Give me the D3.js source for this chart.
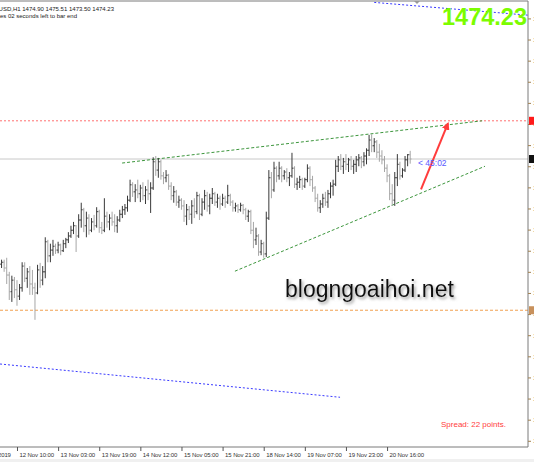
<!DOCTYPE html>
<html>
<head>
    <meta charset="utf-8">
    <style>
        body {
            margin: 0;
            background: #fff;
        }

        svg {
            display: block;
            font-family: 'Liberation Sans', Arial, sans-serif;
        }

        .time .tick text {
            font-size: 6px;
            fill: #333;
            letter-spacing: -0.1px;
        }

        .time .tick line {
            stroke: #555;
        }

        .price .tick text {
            font-size: 6px;
            fill: #8a6a40;
        }

        .price .tick line {
            stroke: #a08050;
        }

        .domain {
            display: none;
        }

        .info {
            font-size: 6px;
            fill: #222;
        }
    </style>
    <title>XAUUSD H1</title>
</head>
<body>
    <svg width="534" height="462"></svg>

<script src="https://cdn.jsdelivr.net/npm/d3@7"></script>
<script>
    // hourly bars, oldest first (index 0 = leftmost bar)
    let barOpen = [
        1457.5, 1457.8, 1458.1, 1457.2, 1456.1, 1453.5, 1455.3, 1453.8, 1452.8, 1454.1,
        1457.5, 1455.6, 1456.6, 1454.7, 1454.1, 1453.3, 1456.9, 1455.3, 1456.6, 1461.3,
        1459.1, 1460.0, 1460.6, 1460.0, 1460.8, 1459.9, 1461.0, 1461.6, 1462.2, 1463.1,
        1463.8, 1462.2, 1464.7, 1466.3, 1463.8, 1465.0, 1463.1, 1464.4, 1463.8, 1466.0,
        1463.5, 1463.1, 1465.3, 1464.4, 1465.0, 1464.4, 1463.8, 1464.7, 1465.6, 1466.3,
        1466.6, 1467.8, 1470.2, 1469.1, 1469.4, 1468.8, 1469.7, 1468.5, 1469.4, 1468.8,
        1469.7, 1473.8, 1472.5, 1473.8, 1471.6, 1471.3, 1471.7, 1470.0, 1468.5, 1469.1,
        1467.5, 1467.8, 1466.9, 1465.3, 1466.3, 1465.6, 1466.9, 1466.0, 1468.5, 1465.6,
        1467.5, 1468.5, 1466.9, 1468.1, 1468.8, 1467.5, 1468.1, 1467.2, 1468.1, 1467.5,
        1468.5, 1467.5, 1466.6, 1466.9, 1466.3, 1467.0, 1466.3, 1465.3, 1466.0, 1463.1,
        1461.6, 1462.2, 1459.7, 1461.0, 1459.4, 1465.0, 1471.3, 1469.4, 1472.8, 1471.6,
        1472.8, 1471.6, 1472.2, 1471.3, 1471.6, 1472.8, 1470.3, 1470.6, 1471.0, 1470.0,
        1471.0, 1472.8, 1471.0, 1469.7, 1468.1, 1466.6, 1467.2, 1468.1, 1467.5, 1468.8,
        1470.0, 1470.3, 1473.1, 1474.1, 1473.1, 1473.8, 1473.4, 1474.1, 1473.1, 1473.4,
        1474.1, 1474.4, 1473.8, 1474.7, 1475.6, 1477.2, 1476.3, 1476.9, 1475.3, 1474.7,
        1474.1, 1472.8, 1471.6, 1468.8, 1467.8, 1471.3, 1473.4, 1471.6, 1472.5, 1474.1,
        1474.90
    ]

    let barHigh = [
        1458.1, 1458.5, 1458.5, 1458.8, 1456.6, 1456.0, 1455.8, 1455.3, 1454.7, 1458.1,
        1458.1, 1457.2, 1457.5, 1456.9, 1454.9, 1457.7, 1458.0, 1457.5, 1462.0, 1461.6,
        1461.0, 1461.6, 1461.0, 1461.3, 1461.0, 1461.6, 1461.9, 1462.8, 1463.8, 1464.4,
        1463.9, 1465.6, 1467.4, 1466.6, 1466.0, 1465.6, 1465.0, 1465.5, 1466.7, 1466.3,
        1464.4, 1468.1, 1466.0, 1465.6, 1466.0, 1465.6, 1465.3, 1466.3, 1466.9, 1467.2,
        1468.5, 1471.0, 1470.6, 1470.3, 1471.0, 1470.2, 1470.6, 1470.0, 1471.0, 1470.6,
        1474.5, 1474.7, 1474.4, 1474.1, 1472.2, 1472.5, 1471.9, 1470.6, 1470.0, 1469.4,
        1468.5, 1468.1, 1467.8, 1467.2, 1466.9, 1467.8, 1468.1, 1469.1, 1468.8, 1468.1,
        1469.4, 1469.1, 1468.8, 1469.7, 1469.1, 1468.8, 1468.5, 1468.8, 1468.5, 1470.2,
        1468.8, 1467.8, 1467.4, 1467.2, 1467.4, 1467.2, 1466.6, 1466.3, 1466.3, 1464.4,
        1463.5, 1462.5, 1461.6, 1461.3, 1466.0, 1472.5, 1472.2, 1473.8, 1473.1, 1473.8,
        1473.1, 1472.5, 1472.8, 1472.2, 1475.2, 1473.1, 1471.3, 1471.6, 1471.3, 1471.3,
        1473.4, 1473.1, 1471.6, 1470.0, 1468.8, 1467.8, 1468.8, 1469.1, 1469.4, 1470.6,
        1471.0, 1474.1, 1474.7, 1475.0, 1474.4, 1475.0, 1474.4, 1474.7, 1474.1, 1474.7,
        1475.0, 1474.7, 1475.3, 1475.9, 1478.0, 1478.1, 1477.5, 1477.2, 1476.6, 1475.6,
        1474.7, 1473.4, 1471.9, 1470.3, 1472.2, 1475.0, 1473.8, 1472.8, 1474.7, 1475.0,
        1475.51
    ]

    let barLow = [
        1456.9, 1457.2, 1456.6, 1454.7, 1452.2, 1451.9, 1452.5, 1451.3, 1452.2, 1453.5,
        1455.0, 1454.1, 1453.0, 1453.0, 1449.1, 1453.1, 1454.1, 1454.5, 1455.6, 1458.1,
        1458.1, 1459.1, 1459.4, 1459.5, 1459.2, 1459.7, 1460.3, 1461.1, 1461.9, 1462.5,
        1459.7, 1461.9, 1463.5, 1462.8, 1462.0, 1462.4, 1462.8, 1463.1, 1463.5, 1462.7,
        1462.5, 1462.8, 1463.5, 1463.1, 1463.8, 1462.8, 1462.7, 1464.4, 1465.0, 1465.5,
        1466.0, 1467.5, 1468.3, 1467.5, 1468.1, 1467.5, 1467.8, 1467.2, 1467.8, 1465.8,
        1469.4, 1471.6, 1471.3, 1471.0, 1470.3, 1470.6, 1469.4, 1467.8, 1467.4, 1466.9,
        1466.6, 1466.3, 1464.4, 1463.9, 1464.7, 1464.1, 1465.0, 1465.6, 1464.7, 1465.3,
        1466.3, 1466.0, 1465.6, 1467.2, 1466.9, 1466.6, 1466.3, 1466.9, 1466.6, 1467.2,
        1466.9, 1466.0, 1466.0, 1465.8, 1466.0, 1465.6, 1464.7, 1464.4, 1462.5, 1460.3,
        1460.8, 1459.1, 1459.2, 1458.8, 1458.9, 1464.7, 1468.1, 1469.1, 1470.6, 1471.0,
        1470.6, 1471.0, 1470.6, 1470.0, 1471.3, 1469.7, 1469.4, 1469.7, 1469.4, 1469.7,
        1470.6, 1470.0, 1469.1, 1467.5, 1466.0, 1465.8, 1466.6, 1466.9, 1466.6, 1468.1,
        1468.5, 1470.0, 1472.2, 1472.5, 1471.9, 1472.5, 1472.2, 1472.5, 1471.9, 1472.2,
        1473.1, 1472.8, 1473.1, 1473.4, 1474.7, 1475.3, 1475.3, 1474.4, 1473.8, 1473.4,
        1472.2, 1470.6, 1467.8, 1466.9, 1466.9, 1470.0, 1471.0, 1471.3, 1472.2, 1473.1,
        1473.50
    ]

    let barClose = [
        1457.8, 1458.1, 1457.2, 1456.1, 1453.5, 1455.3, 1453.8, 1452.8, 1454.1, 1457.5,
        1455.6, 1456.6, 1454.7, 1454.1, 1453.3, 1456.9, 1455.3, 1456.6, 1461.3, 1459.1,
        1460.0, 1460.6, 1460.0, 1460.8, 1459.9, 1461.0, 1461.6, 1462.2, 1463.1, 1463.8,
        1462.2, 1464.7, 1466.3, 1463.8, 1465.0, 1463.1, 1464.4, 1463.8, 1466.0, 1463.5,
        1463.1, 1465.3, 1464.4, 1465.0, 1464.4, 1463.8, 1464.7, 1465.6, 1466.3, 1466.6,
        1467.8, 1470.2, 1469.1, 1469.4, 1468.8, 1469.7, 1468.5, 1469.4, 1468.8, 1469.7,
        1473.8, 1472.5, 1473.8, 1471.6, 1471.3, 1471.7, 1470.0, 1468.5, 1469.1, 1467.5,
        1467.8, 1466.9, 1465.3, 1466.3, 1465.6, 1466.9, 1466.0, 1468.5, 1465.6, 1467.5,
        1468.5, 1466.9, 1468.1, 1468.8, 1467.5, 1468.1, 1467.2, 1468.1, 1467.5, 1468.5,
        1467.5, 1466.6, 1466.9, 1466.3, 1467.0, 1466.3, 1465.3, 1466.0, 1463.1, 1461.6,
        1462.2, 1459.7, 1461.0, 1459.4, 1465.0, 1471.3, 1469.4, 1472.8, 1471.6, 1472.8,
        1471.6, 1472.2, 1471.3, 1471.6, 1472.8, 1470.3, 1470.6, 1471.0, 1470.0, 1471.0,
        1472.8, 1471.0, 1469.7, 1468.1, 1466.6, 1467.2, 1468.1, 1467.5, 1468.8, 1470.0,
        1470.3, 1473.1, 1474.1, 1473.1, 1473.8, 1473.4, 1474.1, 1473.1, 1473.4, 1474.1,
        1474.4, 1473.8, 1474.7, 1475.6, 1477.2, 1476.3, 1476.9, 1475.3, 1474.7, 1474.1,
        1472.8, 1471.6, 1468.8, 1467.8, 1471.3, 1473.4, 1471.6, 1472.5, 1474.1, 1474.9,
        1474.23
    ]

    // time axis: bar index of each label and its text
    let timeTickIdx = [-9, 7, 23, 39, 55, 71, 87, 103, 119, 135, 151]
    let timeTickLabels = ["11 Nov 2019", "12 Nov 10:00", "13 Nov 03:00", "13 Nov 19:00", "14 Nov 12:00",
        "15 Nov 05:00", "15 Nov 21:00", "18 Nov 14:00", "19 Nov 07:00", "19 Nov 23:00", "20 Nov 16:00"]

    let priceTicks = [1496.2, 1492.9, 1489.6, 1486.3, 1483.0, 1479.7, 1476.4, 1473.1, 1469.8, 1466.5,
        1463.2, 1459.9, 1456.6, 1453.3, 1450.0, 1446.7, 1443.4, 1440.1, 1436.8, 1433.5, 1430.2]

    let lastPrice = 1474.23
    let resistLevel = 1480.2
    let supportLevel = 1450.6

    // drawn objects as [bar index, price]
    let upperTrend = [[47.9, 1473.6], [188, 1480.2]]
    let lowerTrend = [[91.8, 1456.7], [189.1, 1473.1]]
    let channelLow = [[0.4, 1442.2], [132.7, 1437.0]]
    let channelHigh = [[146, 1498.7], [206, 1496.7]]
    let arrowPts = [[164.2, 1469.5], [174.7, 1479.8]]

    let plot = { left: 0, top: 1, right: 528, bottom: 447 }

    let svg = d3.select("svg")

    let x = d3.scaleLinear()
        .domain([0, 160])
        .range([-1, 410.2])

    let y = d3.scaleLinear()
        .domain([1429.23, 1498.92])
        .range([plot.bottom, plot.top])

    let defs = svg.append("defs")

    defs.append("clipPath")
        .attr("id", "clip")
        .append("rect")
        .attr("x", plot.left)
        .attr("y", plot.top)
        .attr("width", plot.right - plot.left)
        .attr("height", plot.bottom - plot.top)

    defs.append("marker")
        .attr("id", "head")
        .attr("viewBox", "0 0 10 10")
        .attr("refX", 8)
        .attr("refY", 5)
        .attr("markerWidth", 4)
        .attr("markerHeight", 4)
        .attr("orient", "auto")
        .append("path")
        .attr("d", "M0,0 L10,5 L0,10 z")
        .attr("fill", "#ff3c3c")

    let shadow = defs.append("filter")
        .attr("id", "shadow")
        .attr("x", "-10%").attr("y", "-30%")
        .attr("width", "120%").attr("height", "160%")
    shadow.append("feDropShadow")
        .attr("dx", 1.5)
        .attr("dy", 2)
        .attr("stdDeviation", 1.5)
        .attr("flood-color", "#777")
        .attr("flood-opacity", 0.8)

    // bottom strip
    svg.append("rect")
        .attr("x", 0).attr("y", 459)
        .attr("width", 534).attr("height", 3)
        .attr("fill", "#f0f0f0")

    let chart = svg.append("g").attr("clip-path", "url(#clip)")

    let line = d3.line()
        .x(d => x(d[0]))
        .y(d => y(d[1]))

    // horizontal levels
    chart.append("line")
        .attr("x1", plot.left).attr("x2", plot.right)
        .attr("y1", y(lastPrice)).attr("y2", y(lastPrice))
        .attr("stroke", "#c8c8c8")

    chart.append("line")
        .attr("x1", plot.left).attr("x2", plot.right)
        .attr("y1", y(resistLevel)).attr("y2", y(resistLevel))
        .attr("stroke", "#ff7070")
        .attr("stroke-dasharray", "2,2")

    chart.append("line")
        .attr("x1", plot.left).attr("x2", plot.right)
        .attr("y1", y(supportLevel)).attr("y2", y(supportLevel))
        .attr("stroke", "#f0a050")
        .attr("stroke-dasharray", "3,2")

    // channel + trend lines
    chart.selectAll(".channel")
        .data([channelLow, channelHigh])
        .join("path")
        .attr("class", "channel")
        .attr("d", line)
        .attr("fill", "none")
        .attr("stroke", "#3a3aff")
        .attr("stroke-dasharray", "2,2")

    chart.selectAll(".trend")
        .data([upperTrend, lowerTrend])
        .join("path")
        .attr("class", "trend")
        .attr("d", line)
        .attr("fill", "none")
        .attr("stroke", "#3d963d")
        .attr("stroke-dasharray", "3,2")

    // OHLC bars
    let bars = d3.range(barOpen.length).map(i => ({
        i: i, o: barOpen[i], h: barHigh[i], l: barLow[i], c: barClose[i]
    }))

    let barColor = d => d.c >= d.o ? "#383838" : "#a6a6a6"

    let barG = chart.append("g")

    barG.selectAll(".hl")
        .data(bars)
        .join("line")
        .attr("class", "hl")
        .attr("x1", d => x(d.i)).attr("x2", d => x(d.i))
        .attr("y1", d => y(d.h)).attr("y2", d => y(d.l))
        .attr("stroke", barColor)

    barG.selectAll(".op")
        .data(bars)
        .join("line")
        .attr("class", "op")
        .attr("x1", d => x(d.i) - 1.3).attr("x2", d => x(d.i))
        .attr("y1", d => y(d.o)).attr("y2", d => y(d.o))
        .attr("stroke", barColor)

    barG.selectAll(".cl")
        .data(bars)
        .join("line")
        .attr("class", "cl")
        .attr("x1", d => x(d.i)).attr("x2", d => x(d.i) + 1.3)
        .attr("y1", d => y(d.c)).attr("y2", d => y(d.c))
        .attr("stroke", barColor)

    // red arrow
    chart.append("path")
        .attr("d", line(arrowPts))
        .attr("stroke", "#ff3c3c")
        .attr("stroke-width", 2)
        .attr("fill", "none")
        .attr("marker-end", "url(#head)")

    // watermark
    svg.append("text")
        .attr("x", 285)
        .attr("y", 297)
        .attr("font-size", "23px")
        .attr("fill", "#111")
        .attr("filter", "url(#shadow)")
        .text("blogngoaihoi.net")

    // frame
    svg.append("path")
        .attr("d", `M${plot.left - 2},${plot.top} H${plot.right} V${plot.bottom} H${plot.left - 2}`)
        .attr("fill", "none")
        .attr("stroke", "#7a7a7a")

    // shift marker on top
    svg.append("path")
        .attr("d", "M414,1 L420,1 L417,4 z")
        .attr("fill", "#999")

    // axes
    let timeAxis = d3.axisBottom(x)
        .tickValues(timeTickIdx)
        .tickFormat((d, i) => timeTickLabels[i])
        .tickSize(4)
        .tickPadding(2)

    svg.append("g")
        .attr("class", "time")
        .attr("transform", `translate(0,${plot.bottom})`)
        .call(timeAxis)
        .call(g => g.selectAll(".tick text")
            .attr("text-anchor", "start")
            .attr("dx", 2)
            .attr("dy", 0)
            .attr("y", 10))

    let priceAxis = d3.axisRight(y)
        .tickValues(priceTicks)
        .tickFormat(d3.format(".2f"))
        .tickSize(3)
        .tickPadding(2)

    svg.append("g")
        .attr("class", "price")
        .attr("transform", `translate(${plot.right},0)`)
        .call(priceAxis)

    // price markers on the right edge
    let markers = [[resistLevel, "#ff1a1a"], [lastPrice, "#111"], [supportLevel, "#c8915c"]]
    svg.selectAll(".mark")
        .data(markers)
        .join("rect")
        .attr("class", "mark")
        .attr("x", plot.right + 1)
        .attr("y", d => y(d[0]) - 4)
        .attr("width", 6)
        .attr("height", 8)
        .attr("fill", d => d[1])

    // header
    svg.append("text")
        .attr("class", "info")
        .attr("x", 114)
        .attr("y", 10.5)
        .attr("text-anchor", "end")
        .text("XAUUSD,H1  1474.90 1475.51 1473.50 1474.23")

    svg.append("text")
        .attr("class", "info")
        .attr("x", 77)
        .attr("y", 17.5)
        .attr("text-anchor", "end")
        .text("45 minutes 02 seconds left to bar end")

    // big last price
    svg.append("text")
        .attr("x", 527)
        .attr("y", 25)
        .attr("text-anchor", "end")
        .attr("font-size", "23.5px")
        .attr("font-weight", "bold")
        .attr("fill", "#7cfc00")
        .text(d3.format(".2f")(lastPrice))

    // bar countdown
    svg.append("text")
        .attr("x", 418)
        .attr("y", y(lastPrice) + 6.5)
        .attr("font-size", "8.5px")
        .attr("fill", "#5a5aff")
        .text("< 45:02")

    svg.append("text")
        .attr("x", 441)
        .attr("y", 426.5)
        .attr("font-size", "8px")
        .attr("fill", "#ff3c3c")
        .text("Spread: 22 points.")
</script>
</body>
</html>
